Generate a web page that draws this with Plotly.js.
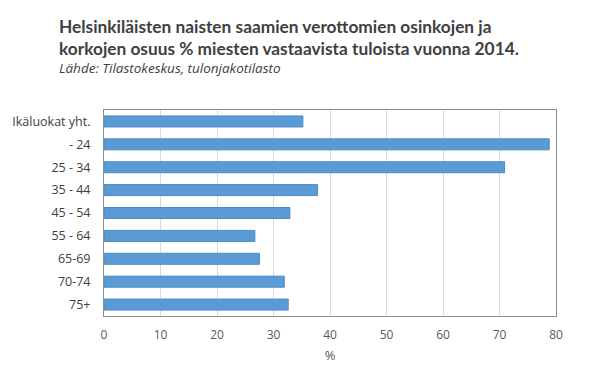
<!DOCTYPE html>
<html><head><meta charset="utf-8">
<script src="https://cdn.plot.ly/plotly-3.0.1.min.js"></script>
<style>body{margin:0}#c{width:600px;height:374px}</style>
</head><body><div id="c"></div>
<script>
const categories = ["Ikäluokat yht.", "- 24", "25 - 34", "35 - 44", "45 - 54", "55 - 64", "65-69", "70-74", "75+"];
const values = [35.2, 78.8, 70.9, 37.8, 32.9, 26.7, 27.5, 31.9, 32.6];
const xTicks = [0, 10, 20, 30, 40, 50, 60, 70, 80];
const titleLines = ["Helsinkiläisten naisten saamien verottomien osinkojen ja", "korkojen osuus % miesten vastaavista tuloista vuonna 2014."];
const subtitle = "Lähde: Tilastokeskus, tulonjakotilasto";

const fontFam = "Open Sans, Noto Sans, sans-serif";
const T = 110, H = 206, L = 104, W = 452;
const px = x => (x - L) / W;
const py = y => 1 - (y - T) / H;
Plotly.newPlot('c', [{
  type: 'bar', orientation: 'h',
  y: categories, x: values,
  width: 0.48,
  marker: {color: '#5B9BD5', line: {color: '#4A89C8', width: 1}},
  hoverinfo: 'none'
}], {
  width: 600, height: 374,
  margin: {l: L, r: 600 - L - W, t: T, b: 374 - T - H},
  paper_bgcolor: '#fff', plot_bgcolor: '#fff',
  showlegend: false,
  annotations: [
    {text: '<b>' + titleLines[0] + '</b>', xref: 'paper', yref: 'paper', x: px(57), y: py(27),
     xanchor: 'left', yanchor: 'middle', showarrow: false,
     font: {family: 'Lato, sans-serif', size: 17.3, color: '#404040'}},
    {text: '<b>' + titleLines[1] + '</b>', xref: 'paper', yref: 'paper', x: px(57), y: py(49),
     xanchor: 'left', yanchor: 'middle', showarrow: false,
     font: {family: 'Lato, sans-serif', size: 17.3, color: '#404040'}},
    {text: '<i>' + subtitle + '</i>', xref: 'paper', yref: 'paper', x: px(57), y: py(68),
     xanchor: 'left', yanchor: 'middle', showarrow: false,
     font: {family: fontFam, size: 13.5, color: '#404040'}}
  ],
  xaxis: {
    range: [0, 80], tickvals: xTicks, ticktext: xTicks.map(String),
    showgrid: true, gridcolor: '#D9D9D9', gridwidth: 1,
    showline: true, linecolor: '#8C8C8C', linewidth: 1, mirror: true,
    zeroline: false, ticks: '', ticklabelstandoff: 8,
    tickfont: {family: fontFam, size: 12, color: '#595959'},
    title: {text: '%', font: {family: fontFam, size: 13, color: '#595959'}, standoff: 8}
  },
  yaxis: {
    autorange: 'reversed', type: 'category',
    showline: true, linecolor: '#8C8C8C', linewidth: 1, mirror: true,
    showgrid: false, ticks: '', ticklabelstandoff: 10,
    tickfont: {family: fontFam, size: 12.5, color: '#404040'}
  }
}, {displayModeBar: false, staticPlot: true});
</script></body></html>
